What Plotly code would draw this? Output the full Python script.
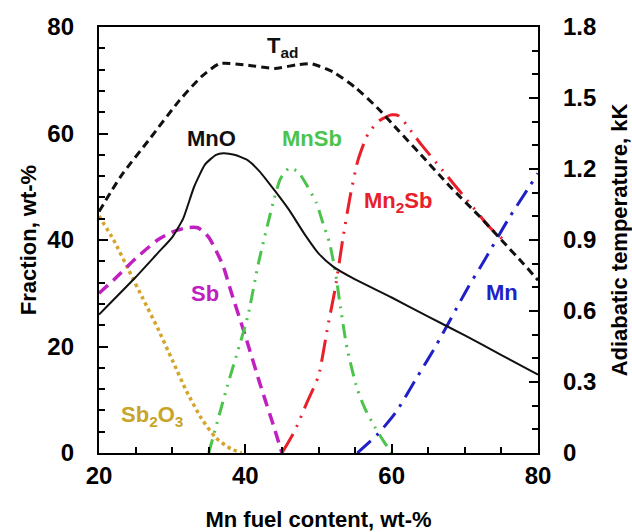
import plotly.graph_objects as go

# ---- data ----
tad_x = [20, 23, 27, 31, 34, 36.5, 40, 44, 47, 49, 52, 55, 58, 61, 64, 68, 72, 75, 78, 80]
tad_kK = [1.02, 1.17, 1.33, 1.49, 1.59, 1.645, 1.64, 1.625, 1.64, 1.645, 1.61, 1.545, 1.46, 1.36, 1.26, 1.125, 1.0, 0.9, 0.8, 0.73]

mno_x = [20, 25, 28, 30, 31.5, 33, 34.5, 36, 37, 38.5, 40.3, 42, 44, 46, 48, 50, 52, 55, 60, 65, 70, 75, 80]
mno_y = [26, 33, 37.5, 40.5, 44, 50, 54.2, 56, 56.3, 56, 55, 52.8, 49.3, 45.6, 41.3, 37.5, 35, 32.6, 29.2, 25.6, 22.1, 18.4, 14.7]

sb_x = [20, 22, 25, 28, 30, 32, 33.5, 35, 36, 37, 38, 40, 42, 44, 45]
sb_y = [30, 32.5, 36.5, 40, 41.5, 42.3, 42.3, 40.5, 38, 35, 30.5, 22, 13, 4.5, 0]

sb2o3_x = [20, 22, 24, 26, 28, 30, 32, 34, 36, 38, 39.5]
sb2o3_y = [44.5, 40, 34.5, 29, 23.5, 17.5, 11.5, 6.5, 2.8, 0.8, 0]

mnsb_x = [35, 37.5, 40.3, 41.8, 43.8, 44.8, 46, 47.2, 48.4, 49.7, 50.6, 51.5, 52.3, 53, 53.9, 55.3, 56.4, 57.7, 59, 60]
mnsb_y = [0, 12.4, 25.5, 35.7, 47, 51.5, 53.5, 52.8, 50.3, 47, 43.2, 39.5, 34, 27.4, 19.7, 12, 8.2, 4.9, 2, 0]

mn2sb_x = [45, 46.8, 48.4, 50, 51.3, 52.3, 53.3, 54.3, 55.4, 56.8, 58.4, 60, 61, 62.9, 64, 67, 70.3, 73.4, 75.8]
mn2sb_y = [0, 4.3, 9.4, 14.5, 24, 31, 40, 48, 55, 60, 62.5, 63.5, 63.3, 60, 58, 53, 47.5, 42.4, 39.4]

mn_x = [55.3, 58, 60.5, 63.5, 66, 70.4, 72.6, 75.9, 80]
mn_y = [0, 3.4, 7.5, 14.3, 20, 31, 36, 43.8, 52.5]

x_range = [20, 80]
y_range = [0, 80]
y2_range = [0, 1.8]

FONT = "Liberation Sans, Arial, sans-serif"

fig = go.Figure()

def add(x, y, color, dash, width=3, yaxis="y", smoothing=0.6):
    fig.add_trace(go.Scatter(x=x, y=y, mode="lines", yaxis=yaxis,
                             line=dict(color=color, dash=dash, width=width,
                                       shape="spline", smoothing=smoothing),
                             showlegend=False, hoverinfo="skip"))

add(sb2o3_x, sb2o3_y, "#D4A52A", "dot", 3.5)
add(sb_x, sb_y, "#C020C0", "12px,7px", 3.5)
add(mnsb_x, mnsb_y, "#4CC44C", "14px,7px,2px,7px,2px,7px", 3)
add(mn2sb_x, mn2sb_y, "#E8202A", "22px,8px,2px,8px,2px,8px", 3)
add(mn_x, mn_y, "#2020C8", "18px,8px,3px,8px", 3)
add(mno_x, mno_y, "#111111", "solid", 2, smoothing=0.5)
add(tad_x, tad_kK, "#111111", "8px,5px", 3, yaxis="y2")

labels = [
    (45.1, 76.2, "T<sub>ad</sub>", "#111111"),
    (35.4, 59.0, "MnO", "#111111"),
    (49.1, 59.0, "MnSb", "#4CC44C"),
    (60.9, 47.1, "Mn<sub>2</sub>Sb", "#E8202A"),
    (34.5, 30.0, "Sb", "#C020C0"),
    (75.1, 30.2, "Mn", "#2020C8"),
    (27.2, 6.9, "Sb<sub>2</sub>O<sub>3</sub>", "#C8A428"),
]
for lx, ly, txt, col in labels:
    fig.add_annotation(x=lx, y=ly, xref="x", yref="y", text=txt, showarrow=False,
                       font=dict(family=FONT, size=22, color=col, weight="bold"))

tickfont = dict(family=FONT, size=24, color="black", weight="bold")
titlefont = dict(family=FONT, size=22, color="black", weight="bold")

NB = "\u00a0\u00a0\u2009"

def ax(rng, tick0, dtick, mdtick, title, standoff, **kw):
    return dict(range=rng, tickmode="linear", tick0=tick0, dtick=dtick,
                ticks="inside", ticklen=9, tickwidth=2, tickcolor="black",
                showline=True, linecolor="black", linewidth=2, automargin=False,
                showgrid=False, zeroline=False, tickfont=tickfont,
                minor=dict(tickmode="linear", dtick=mdtick, ticks="inside", ticklen=6,
                           tickwidth=2, tickcolor="black", showgrid=False),
                title=dict(text=title, font=titlefont, standoff=standoff), **kw)

fig.update_layout(
    width=632, height=532,
    margin=dict(l=99, r=94, t=27, b=79),
    plot_bgcolor="white", paper_bgcolor="white",
    showlegend=False,
    xaxis=ax(x_range, 20, 20, 5, "Mn fuel content, wt-%", 24, mirror=True),
    yaxis=ax(y_range, 0, 20, 4, "Fraction, wt-%", 5, ticksuffix=NB),
    yaxis2=ax(y2_range, 0, 0.3, 0.1, "Adiabatic temperature, kK", 16,
              overlaying="y", side="right", tickprefix=NB),
)

fig.write_html("out.html")
